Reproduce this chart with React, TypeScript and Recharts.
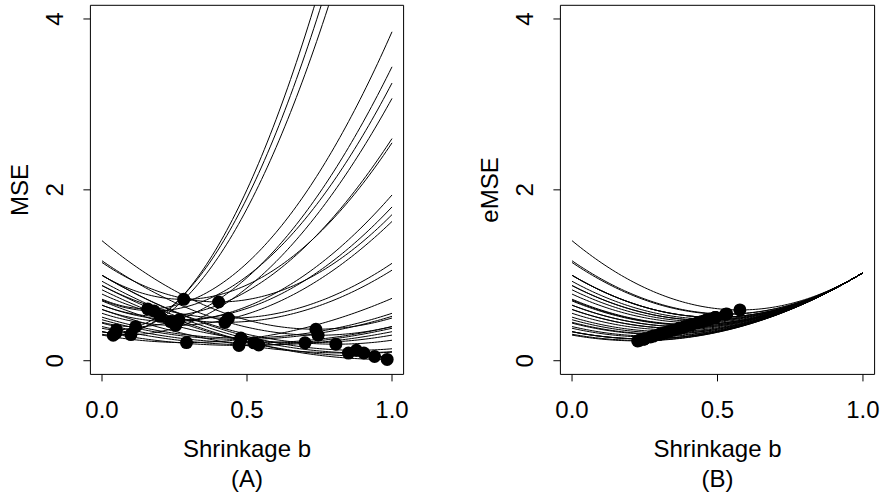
import { ComposedChart, Line, Scatter, XAxis, YAxis, ReferenceArea } from "recharts";

// value of each curve at b = 0 (shared by both panels)
const startValues = [
  0.31, 0.38, 0.34, 0.72, 0.45, 0.71, 0.34, 0.65, 1.0, 0.6,
  0.65, 1.15, 0.555, 0.88, 0.78, 0.3, 0.51, 0.48, 1.405, 0.44,
  1.17, 0.34, 0.4, 0.7, 1.0, 0.6, 1.0, 0.93, 0.83, 0.88,
];
// MSE at b = 1 for panel A
const endValuesA = [
  7.7, 7.24, 6.78, 3.85, 3.44, 3.25, 3.07, 2.6, 2.55, 1.94,
  1.8, 1.71, 1.63, 1.14, 1.06, 0.73, 0.555, 0.52, 0.5, 0.4,
  0.4, 0.38, 0.34, 0.3, 0.24, 0.106, 0.14, 0.1, 0.053, 0.015,
];
// eMSE at b = 1 for panel B (all curves meet here)
const endValueB = 1.03;

const bGrid = Array.from({ length: 101 }, (_, i) => i / 100);
const xTicks = [0, 0.5, 1];
const yTicks = [0, 2, 4];

const FONT = "'Liberation Sans', Arial, Helvetica, sans-serif";

function curve(v0: number, v1: number) {
  return bGrid.map((b) => ({ b, y: (1 - b) * (1 - b) * v0 + b * b * v1 }));
}

function minimum(v0: number, v1: number) {
  return { b: v0 / (v0 + v1), y: (v0 * v1) / (v0 + v1) };
}

const Dot = (props: any) => <circle cx={props.cx} cy={props.cy} r={6.5} fill="#000" />;

const YTick = (props: any) => {
  const { x, y, payload } = props;
  return (
    <text x={x} y={y} transform={`rotate(-90, ${x}, ${y})`} textAnchor="middle" fontSize={24} fill="#000">
      {payload.value}
    </text>
  );
};

type PanelProps = {
  ends: number[];
  offset: number;
  marginLeft: number;
  marginRight: number;
  yLabel: string;
  tag: string;
};

function Panel({ ends, offset, marginLeft, marginRight, yLabel, tag }: PanelProps) {
  const series = startValues.map((v0, i) => curve(v0, ends[i]));
  const dots = startValues.map((v0, i) => minimum(v0, ends[i]));
  const plotLeft = marginLeft + 60;
  const plotCenter = (plotLeft + 444 - marginRight) / 2;
  return (
    <>
      <ComposedChart
        width={444}
        height={495}
        margin={{ top: 5.3, right: marginRight, bottom: 60.6, left: marginLeft }}
        style={{ position: "absolute", left: offset, top: 0 }}
      >
        <XAxis
          dataKey="b"
          type="number"
          domain={[-0.04, 1.04]}
          ticks={xTicks}
          tickFormatter={(v: number) => v.toFixed(1)}
          axisLine={false}
          tickLine={{ stroke: "#000" }}
          tickSize={7}
          tickMargin={20}
          height={60}
          tick={{ fill: "#000", fontSize: 24 }}
          allowDataOverflow
        />
        <YAxis
          type="number"
          domain={[-0.16, 4.16]}
          ticks={yTicks}
          axisLine={false}
          tickLine={{ stroke: "#000" }}
          tickSize={7}
          tickMargin={20}
          width={60}
          tick={<YTick />}
          allowDataOverflow
        />
        {series.map((d, i) => (
          <Line
            key={i}
            data={d}
            dataKey="y"
            type="linear"
            stroke="#000"
            strokeWidth={1}
            dot={false}
            activeDot={false}
            isAnimationActive={false}
          />
        ))}
        <ReferenceArea x1={-0.04} x2={1.04} y1={-0.16} y2={4.16} fill="none" fillOpacity={0} stroke="#000" strokeWidth={1} ifOverflow="visible" />
        <Scatter data={dots} dataKey="y" shape={<Dot />} isAnimationActive={false} />
      </ComposedChart>
      <svg width={444} height={495} style={{ position: "absolute", left: offset, top: 0, pointerEvents: "none" }}>
        <text x={plotLeft - 62} y={190} transform={`rotate(-90, ${plotLeft - 62}, 190)`} textAnchor="middle" fontSize={24} fill="#000">
          {yLabel}
        </text>
        <text x={plotCenter} y={457} textAnchor="middle" fontSize={24} fill="#000">
          Shrinkage b
        </text>
        <text x={plotCenter} y={487} textAnchor="middle" fontSize={24} fill="#000">
          {tag}
        </text>
      </svg>
    </>
  );
}

export default function App() {
  const endsB = startValues.map(() => endValueB);
  return (
    <div style={{ position: "absolute", left: 0, top: 0, width: 888, height: 495, background: "#fff", fontFamily: FONT }}>
      <Panel ends={endValuesA} offset={0} marginLeft={30.4} marginRight={40.4} yLabel="MSE" tag="(A)" />
      <Panel ends={endsB} offset={444} marginLeft={56.4} marginRight={13.4} yLabel="eMSE" tag="(B)" />
    </div>
  );
}
